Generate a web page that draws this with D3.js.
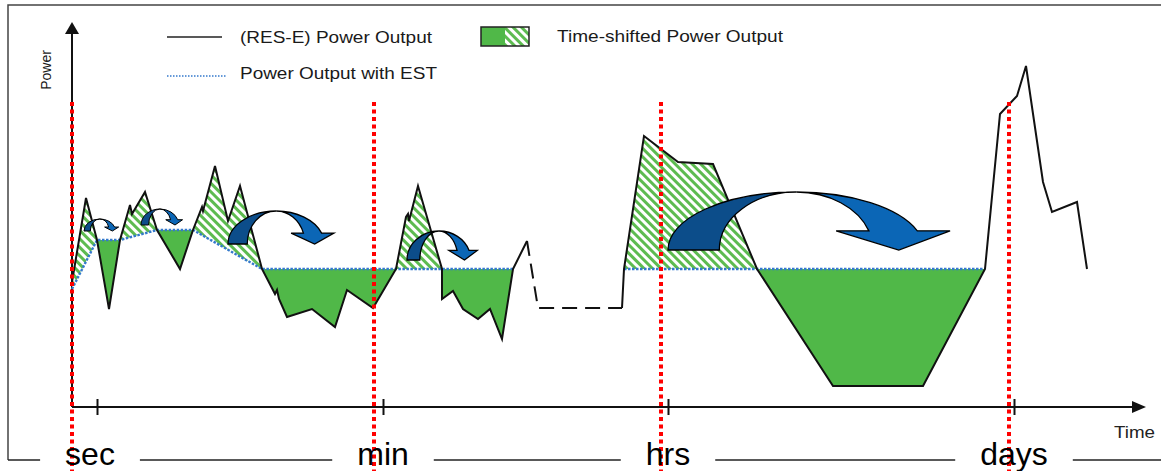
<!DOCTYPE html>
<html><head><meta charset="utf-8">
<script src="https://cdn.jsdelivr.net/npm/d3@7"></script>
<style>body{margin:0;background:#fff}svg{display:block;font-family:"Liberation Sans",Arial,sans-serif}</style>
</head><body>
<svg id="c" width="1161" height="471"></svg>
<script>
// ---- data (chart units: time 0..1073, power 0..383) ----
const scaleLabels = ["sec", "min", "hrs", "days"];
const tickTimes = [25, 311, 596, 942];
const markerTimes = [0, 302, 589, 937];
const resPowerA = [[0,125],[14,209],[25,167],[37,98],[48,167],[58,202],[60,193],[73,215],[85,177],[108,138],[121,177],[130,200],[131,196],[143,241],[156,186],[168,221],[190,138],[203,113],[205,117],[207,108],[215,90],[240,98],[263,80],[275,117],[301,99],[324,138],[334,190],[336,193],[337,186],[346,221],[370,138],[370,108],[381,116],[391,98],[406,88],[418,98],[430,68],[441,138],[455,166]];
const resPowerGap = [[455,166],[466,99],[550,99]];
const resPowerB = [[550,99],[552,138],[572,271],[606,245],[641,243],[685,138],[761,21],[851,21],[913,138],[928,293],[945,311],[954,341],[971,225],[980,195],[1005,205],[1015,138]];
const estPowerA = [[0,118],[25,167],[48,167],[85,177],[121,177],[190,138],[441,138]];
const estPowerB = [[552,138],[913,138]];
const shiftArrowStart = [12, 69, 156, 335, 596];
const shiftArrowSpan = [35, 42, 107, 71, 285];
const shiftArrowBase = [176, 182, 163, 147, 157];
const shiftArrowTop = [188, 198, 196, 176, 215];
const legendLabels = ["(RES-E) Power Output", "Power Output with EST", "Time-shifted Power Output"];
const axisTitles = ["Power", "Time"];

// ---- setup ----
const W = 1161, H = 471;
const svg = d3.select("#c");
const x = d3.scaleLinear().domain([0, 1073]).range([72, 1145]);
const y = d3.scaleLinear().domain([0, 383]).range([407, 24]);
const GREEN = "#50b848", HATCH = "#5dbb50", BLUE = "#3479cc", RED = "#ff0000";
const defs = svg.append("defs");

const pat = defs.append("pattern").attr("id", "hatch").attr("patternUnits", "userSpaceOnUse")
  .attr("width", 6).attr("height", 6).attr("patternTransform", "rotate(-45)");
pat.append("rect").attr("width", 6).attr("height", 6).attr("fill", "#fff");
pat.append("rect").attr("width", 3).attr("height", 6).attr("fill", HATCH);

const line = d3.line().x(d => x(d[0])).y(d => y(d[1]));
const topY = 0, botY = y(0);

// clip regions above / below the EST line
const aboveClip = defs.append("clipPath").attr("id", "aboveEst");
const belowClip = defs.append("clipPath").attr("id", "belowEst");
[estPowerA, estPowerB].forEach(seg => {
  const a = seg[0], b = seg[seg.length - 1];
  aboveClip.append("path").attr("d", line(seg) + `L${x(b[0])},${topY}L${x(a[0])},${topY}Z`);
  belowClip.append("path").attr("d", line(seg) + `L${x(b[0])},${botY}L${x(a[0])},${botY}Z`);
});

// ---- frame ----
svg.append("path").attr("d", `M1161,5H8V460`).attr("fill", "none").attr("stroke", "#444").attr("stroke-width", 1.5);

// ---- legend ----
const lg = svg.append("g").attr("font-size", 16.5).attr("fill", "#1a1a1a");
lg.append("line").attr("x1", 167).attr("x2", 222).attr("y1", 37).attr("y2", 37).attr("stroke", "#222").attr("stroke-width", 1.5);
lg.append("text").attr("x", 240).attr("y", 43).attr("textLength", 192).attr("lengthAdjust", "spacingAndGlyphs").text(legendLabels[0]);
lg.append("line").attr("x1", 167).attr("x2", 227).attr("y1", 76).attr("y2", 76).attr("stroke", BLUE).attr("stroke-width", 1.5).attr("stroke-dasharray", "1.5,1.5");
lg.append("text").attr("x", 240).attr("y", 79).attr("textLength", 197).attr("lengthAdjust", "spacingAndGlyphs").text(legendLabels[1]);
lg.append("rect").attr("x", 481).attr("y", 27).attr("width", 24).attr("height", 19).attr("fill", GREEN);
lg.append("rect").attr("x", 505).attr("y", 27).attr("width", 24).attr("height", 19).attr("fill", "url(#hatch)");
lg.append("rect").attr("x", 481).attr("y", 27).attr("width", 48).attr("height", 19).attr("fill", "none").attr("stroke", "#222").attr("stroke-width", 1.5);
lg.append("text").attr("x", 557).attr("y", 42).attr("textLength", 226).attr("lengthAdjust", "spacingAndGlyphs").text(legendLabels[2]);

// ---- axes ----
const ax = svg.append("g").attr("stroke", "#111").attr("stroke-width", 2);
ax.append("line").attr("x1", x(0)).attr("x2", x(0)).attr("y1", y(0)).attr("y2", 32);
ax.append("path").attr("d", `M${x(0)},22L${x(0) - 7},34L${x(0) + 7},34Z`).attr("fill", "#111").attr("stroke", "none");
ax.append("line").attr("x1", x(0)).attr("x2", 1134).attr("y1", y(0)).attr("y2", y(0));
ax.append("path").attr("d", `M1146,${y(0)}L1132,${y(0) - 6}L1132,${y(0) + 6}Z`).attr("fill", "#111").attr("stroke", "none");
const xAxis = d3.axisBottom(x).tickValues(tickTimes).tickSize(8).tickFormat("");
const xg = svg.append("g").attr("transform", `translate(0,${y(0) - 8})`).call(xAxis);
xg.select(".domain").remove();
xg.selectAll(".tick line").attr("stroke", "#111").attr("stroke-width", 2).attr("y2", 16);

svg.append("text").attr("transform", "translate(51,70) rotate(-90)").attr("text-anchor", "middle")
  .attr("font-size", 14).attr("fill", "#1a1a1a").text(axisTitles[0]);
svg.append("text").attr("x", 1114).attr("y", 438).attr("font-size", 16).attr("fill", "#222")
  .attr("textLength", 41).attr("lengthAdjust", "spacingAndGlyphs").text(axisTitles[1]);

// ---- fills ----
const underArea = seg => line(seg) + `L${x(seg[seg.length - 1][0])},${botY}L${x(seg[0][0])},${botY}Z`;
const overArea = seg => line(seg) + `L${x(seg[seg.length - 1][0])},${topY}L${x(seg[0][0])},${topY}Z`;
[resPowerA, resPowerB].forEach(seg => {
  svg.append("path").attr("d", underArea(seg)).attr("fill", "url(#hatch)").attr("clip-path", "url(#aboveEst)");
  svg.append("path").attr("d", overArea(seg)).attr("fill", GREEN).attr("clip-path", "url(#belowEst)");
});

// ---- EST line ----
[estPowerA, estPowerB].forEach(seg => {
  svg.append("path").attr("d", line(seg)).attr("fill", "none").attr("stroke", BLUE)
    .attr("stroke-width", 2.4).attr("stroke-dasharray", "2.5,1.5");
});

// ---- RES-E line ----
[resPowerA, resPowerB].forEach(seg => {
  svg.append("path").attr("d", line(seg)).attr("fill", "none").attr("stroke", "#111")
    .attr("stroke-width", 2).attr("stroke-linejoin", "miter");
});
svg.append("path").attr("d", line(resPowerGap)).attr("fill", "none").attr("stroke", "#111")
  .attr("stroke-width", 2).attr("stroke-dasharray", "15,8");

// ---- curved shift arrows ----
shiftArrowStart.forEach((t, i) => {
  const x0 = x(t), wd = x(t + shiftArrowSpan[i]) - x0;
  const yb = y(shiftArrowBase[i]), yt = y(shiftArrowTop[i]), h = yb - yt;
  const rx = 0.45 * wd, cx = x0 + rx, th = 0.18 * wd, rxi = rx - th;
  const hh = 0.33 * h, yh = yb - hh, k = Math.sqrt(1 - (hh / h) ** 2);
  const oe = cx + rx * k, ie = cx + rxi * k, e = 0.115 * wd;
  const g = svg.append("g").attr("stroke", "#000").attr("stroke-width", wd > 60 ? 1.3 : 1).attr("stroke-linejoin", "miter");
  g.append("path").attr("fill", "#0b66b6")
    .attr("d", `M${cx},${yt}A${rx},${h} 0 0 1 ${oe},${yh}L${oe + e},${yh}L${(oe + ie) / 2 + 0.02 * wd},${yb}L${ie - e},${yh}L${ie},${yh}A${rxi},${h} 0 0 0 ${cx},${yt}Z`);
  g.append("path").attr("fill", "#0c4d8a")
    .attr("d", `M${x0},${yb}A${rx},${h} 0 0 1 ${cx},${yt}A${rxi},${h} 0 0 0 ${x0 + th},${yb}Z`);
});

// ---- red time-scale markers ----
markerTimes.forEach(t => {
  svg.append("line").attr("x1", x(t)).attr("x2", x(t)).attr("y1", y(305)).attr("y2", H)
    .attr("stroke", RED).attr("stroke-width", 4).attr("stroke-dasharray", "4,3.5");
});

// ---- scale labels and broken bottom rule ----
const labs = svg.append("g").attr("font-size", 32).attr("fill", "#000").attr("text-anchor", "middle");
const boxes = [];
scaleLabels.forEach((s, i) => {
  const tx = labs.append("text").attr("x", x(tickTimes[i]) - (i === 0 ? 7 : 0)).attr("y", 465).text(s);
  boxes.push(tx.node().getBBox());
});
let prev = 8;
const gap = 25;
boxes.forEach(b => {
  svg.append("line").attr("x1", prev).attr("x2", b.x - gap).attr("y1", 460).attr("y2", 460).attr("stroke", "#222").attr("stroke-width", 1.3);
  prev = b.x + b.width + gap;
});
svg.append("line").attr("x1", prev).attr("x2", W).attr("y1", 460).attr("y2", 460).attr("stroke", "#222").attr("stroke-width", 1.3);
</script>
</body></html>
